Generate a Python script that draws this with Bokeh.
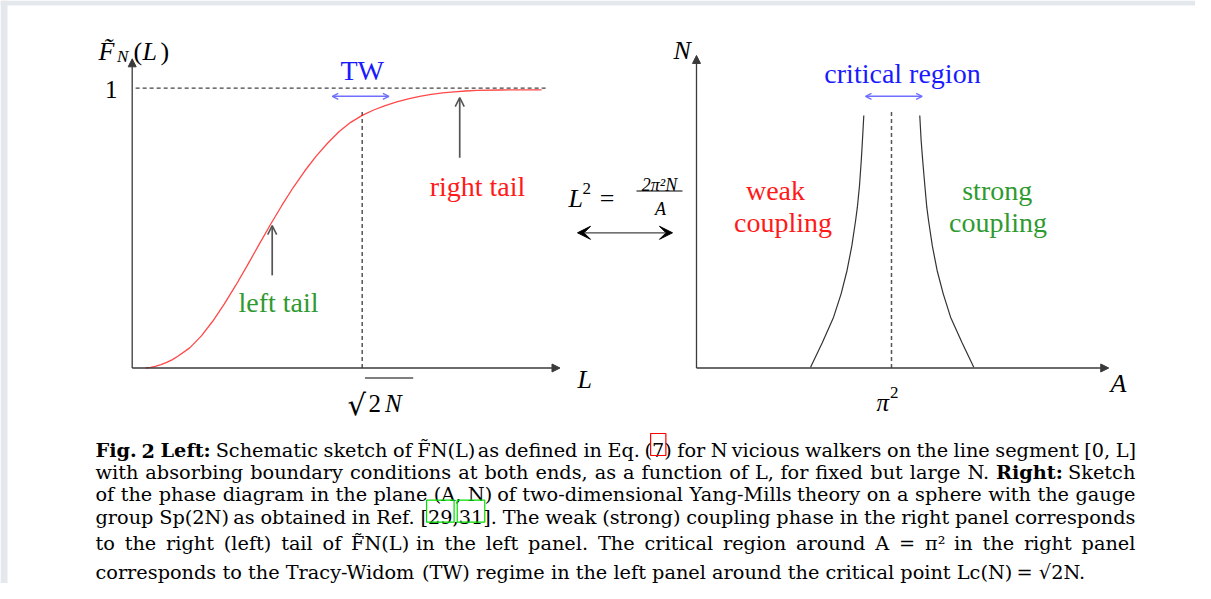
from bokeh.plotting import figure
from bokeh.models import Range1d, Arrow, NormalHead, OpenHead, VeeHead
from bokeh.core.properties import value
from bokeh.embed import file_html
from bokeh.resources import INLINE

# ---------------- data ----------------
# Left panel: F_N(L) versus L / sqrt(2N)
L_curve = [0.058, 0.08, 0.10, 0.125, 0.15, 0.175, 0.20, 0.25, 0.30, 0.35, 0.40, 0.45, 0.50,
           0.55, 0.60, 0.65, 0.70, 0.75, 0.80, 0.85, 0.90, 0.95, 1.00, 1.05, 1.10, 1.15,
           1.20, 1.25, 1.30, 1.35, 1.40, 1.45, 1.50, 1.60, 1.70, 1.78]
F_curve = [0.0, 0.002, 0.006, 0.012, 0.020, 0.030, 0.043, 0.072, 0.114, 0.167, 0.228, 0.295,
           0.366, 0.439, 0.511, 0.580, 0.645, 0.704, 0.757, 0.804, 0.845, 0.878, 0.903, 0.922,
           0.938, 0.951, 0.962, 0.971, 0.978, 0.983, 0.987, 0.990, 0.992, 0.9935, 0.994, 0.994]
L_crit = 1.0          # sqrt(2N)
F_sat = 1.0           # plateau value "1"
L_axis_end = 1.86
F_axis_end = 1.105
L_dash_end = 1.80
dash_top = 0.918

# Right panel: phase diagram (A / pi^2, N)
N_bound = [0.003, 0.09, 0.1816, 0.266, 0.3485, 0.438, 0.5272, 0.5747, 0.652, 0.7416, 0.813, 0.9024]
A_weak_edge = [0.585, 0.645, 0.703, 0.742, 0.772, 0.797, 0.816, 0.825, 0.836, 0.845, 0.851, 0.858]
A_strong_edge = [1.422, 1.362, 1.303, 1.265, 1.234, 1.209, 1.190, 1.181, 1.171, 1.160, 1.152, 1.145]
A_crit = 1.0          # pi^2
A_axis_end = 2.114
N_axis_end = 1.117

# annotation arrows (data units)
tw_span = [0.87, 1.116]
tw_level = 0.971
crit_span = [0.8667, 1.1574]
right_tail_arrow = [1.424, 0.751, 0.966]   # L, F from, F to
left_tail_arrow = [0.6087, 0.331, 0.509]

caption_lines = [
    "Fig. 2  Left: Schematic sketch of F\u0303N(L) as defined in Eq. (7) for N vicious walkers on the line segment [0, L]",
    "with absorbing boundary conditions at both ends, as a function of L, for fixed but large N. Right: Sketch",
    "of the phase diagram in the plane (A, N) of two-dimensional Yang-Mills theory on a sphere with the gauge",
    "group Sp(2N) as obtained in Ref. [29,31]. The weak (strong) coupling phase in the right panel corresponds",
    "to the right (left) tail of F\u0303N(L) in the left panel. The critical region around A = \u03c0\u00b2 in the right panel",
    "corresponds to the Tracy-Widom (TW) regime in the left panel around the critical point Lc(N) = \u221a2N.",
]
bold_words = {0: ["Fig.", "2", "Left:"], 1: ["Right:"]}

# ---------------- styles ----------------
SERIF = "Liberation Serif"
CAPF = "DejaVu Serif"
AX = "#3a3a3a"
RED = "#ff1a1a"
GREEN = "#2f9a2f"
BLUE = "#1a1aff"
LBLUE = "#7070ff"

p = figure(width=1195, height=583,
           x_range=Range1d(-0.5726, 4.6230), y_range=Range1d(-0.7702, 1.3134),
           output_backend="svg", toolbar_location=None, min_border=0,
           x_axis_location=None, y_axis_location=None,
           outline_line_color=None, background_fill_color="white",
           border_fill_color="white")
p.grid.visible = False
p.extra_x_ranges = {"A": Range1d(-3.5692, 2.5590), "px": Range1d(0, 1195)}
p.extra_y_ranges = {"py": Range1d(583, 0)}

# light page frame visible at the top and left of the reference
p.quad(left=[0, 0], right=[1195, 7], top=[0, 0], bottom=[5, 583],
       x_range_name="px", y_range_name="py", fill_color="#e4e7eb", line_color=None)


def txt(x, y, s, size, color="black", style="normal", align="left",
        baseline="alphabetic", font=SERIF, xr="px", yr="py"):
    kw = {}
    if xr != "default":
        kw["x_range_name"] = xr
    if yr != "default":
        kw["y_range_name"] = yr
    p.text(x=[x], y=[y], text=[s], text_font=value(font),
           text_font_size=value(f"{size}px"), text_font_style=style,
           text_color=color, text_align=align, text_baseline=baseline, **kw)


def axis_arrow(x0, y0, x1, y1, xr="default"):
    kw = {} if xr == "default" else {"x_range_name": xr}
    p.add_layout(Arrow(end=NormalHead(size=8, fill_color=AX, line_color=AX, line_width=1),
                       x_start=x0, y_start=y0, x_end=x1, y_end=y1,
                       line_color=AX, line_width=1.3, **kw))


# ---------------- left panel ----------------
axis_arrow(0, 0, L_axis_end, 0)
axis_arrow(0, 0, 0, F_axis_end)
p.line([0.015, L_dash_end], [F_sat, F_sat], line_color="#444444", line_width=1.3, line_dash="4 3")
p.line([L_crit, L_crit], [0, dash_top], line_color="#555555", line_width=1.5, line_dash="4 3")
p.line(L_curve, F_curve, line_color=RED, line_width=1.3, line_alpha=0.8)

p.add_layout(Arrow(start=OpenHead(size=6, line_color=LBLUE, line_width=1.3),
                   end=OpenHead(size=6, line_color=LBLUE, line_width=1.3),
                   x_start=tw_span[0], x_end=tw_span[1], y_start=tw_level, y_end=tw_level,
                   line_color=LBLUE, line_width=1.4))
p.add_layout(Arrow(end=OpenHead(size=9, line_color="#555555", line_width=1.6),
                   x_start=right_tail_arrow[0], x_end=right_tail_arrow[0],
                   y_start=right_tail_arrow[1], y_end=right_tail_arrow[2],
                   line_color="#555555", line_width=1.7))
p.add_layout(Arrow(end=OpenHead(size=9, line_color="#555555", line_width=1.6),
                   x_start=left_tail_arrow[0], x_end=left_tail_arrow[0],
                   y_start=left_tail_arrow[1], y_end=left_tail_arrow[2],
                   line_color="#555555", line_width=1.7))

txt(98, 51, "F\u0303", 26, style="italic")
txt(116.5, 56, "N", 17, style="italic")
txt(133, 51, "(", 26)
txt(142, 51, "L", 26, style="italic")
txt(160, 51, ")", 26)
txt(110.7, 89, "1", 25, align="center")
txt(361.7, 70, "TW", 28, color=BLUE, align="center")
txt(477, 185.7, "right tail", 28, color=RED, align="center")
txt(278, 301.7, "left tail", 28, color=GREEN, align="center")
txt(577, 379.3, "L", 26, style="italic")
txt(347, 404, "\u221a", 29, font="DejaVu Sans")
txt(368, 403.3, "2", 25)
txt(384.5, 403.3, "N", 25, style="italic")
p.line([364.5, 412.7], [377.5, 377.5], x_range_name="px", y_range_name="py",
       line_color="black", line_width=1.2)

# ---------------- middle relation ----------------
txt(568, 198.3, "L", 26, style="italic")
txt(582, 187.5, "2", 17)
txt(606.7, 198.3, "=", 26, align="center")
txt(659, 184, "2\u03c0\u00b2N", 18, style="italic", align="center")
p.line([636, 682], [190.5, 190.5], x_range_name="px", y_range_name="py",
       line_color="black", line_width=1.0)
txt(660, 208.3, "A", 18, style="italic", align="center")
p.add_layout(Arrow(start=VeeHead(size=13, fill_color="black", line_color="black"),
                   end=VeeHead(size=13, fill_color="black", line_color="black"),
                   x_start=577, x_end=672, y_start=232.3, y_end=232.3,
                   x_range_name="px", y_range_name="py", line_color="#444444", line_width=1.3))

# ---------------- right panel ----------------
axis_arrow(0, 0, A_axis_end, 0, xr="A")
axis_arrow(0, 0, 0, N_axis_end, xr="A")
p.line([A_crit, A_crit], [0, dash_top], x_range_name="A", line_color="#555555",
       line_width=1.5, line_dash="4 3")
p.line(A_weak_edge, N_bound, x_range_name="A", line_color="#333333", line_width=1.2)
p.line(A_strong_edge, N_bound, x_range_name="A", line_color="#333333", line_width=1.2)
p.add_layout(Arrow(start=OpenHead(size=6, line_color=LBLUE, line_width=1.3),
                   end=OpenHead(size=6, line_color=LBLUE, line_width=1.3),
                   x_start=crit_span[0], x_end=crit_span[1], y_start=tw_level, y_end=tw_level,
                   x_range_name="A", line_color=LBLUE, line_width=1.4))

txt(673, 50, "N", 26, style="italic")
txt(1110, 383, "A", 26, style="italic")
txt(876, 401.7, "\u03c0", 25, style="italic")
txt(889.5, 392, "2", 17)
txt(902, 72.7, "critical region", 28, color=BLUE, align="center")
txt(775, 190, "weak", 28, color=RED, align="center")
txt(782.5, 222, "coupling", 28, color=RED, align="center")
txt(996.7, 190, "strong", 28, color=GREEN, align="center")
txt(997.5, 222, "coupling", 28, color=GREEN, align="center")

# ---------------- caption (justified word by word) ----------------
CS = 19.3
X0, X1 = 95, 1135
b = [450, 471.7, 494, 516.7, 543.3, 571.7]
# approximate DejaVu Serif advance widths (em)
EM = {" ": .318, "a": .596, "b": .640, "c": .560, "d": .640, "e": .592, "f": .369, "g": .640,
      "h": .644, "i": .320, "j": .320, "k": .610, "l": .320, "m": .948, "n": .644, "o": .602,
      "p": .640, "q": .640, "r": .478, "s": .513, "t": .402, "u": .644, "v": .565, "w": .855,
      "x": .565, "y": .565, "z": .525, "A": .722, "E": .683, "F": .638, "L": .638, "M": .865,
      "N": .801, "R": .724, "S": .686, "T": .673, "W": 1.022, "Y": .673, "(": .390, ")": .390,
      "[": .390, "]": .390, ",": .318, ".": .318, ":": .337, "-": .338, "=": .838,
      "\u03c0": .60, "\u00b2": .40, "\u221a": .838, "\u0303": 0.0}
for d_ in "0123456789":
    EM[d_] = .636


def wlen(word, bold=False):
    return sum(EM.get(ch, .6) for ch in word) * CS * (1.1 if bold else 1.0)


word_pos = {}
for li, line in enumerate(caption_lines):
    words = [w for w in line.split(" ") if w]
    bolds = bold_words.get(li, [])
    widths = [wlen(w, w in bolds) for w in words]
    if li < len(caption_lines) - 1:
        gap = (X1 - X0 - sum(widths)) / (len(words) - 1)
    else:
        gap = EM[" "] * CS
    x = X0
    for w, wd in zip(words, widths):
        cap_style = "bold" if w in bolds else "normal"
        txt(x, b[li], w, CS, style=cap_style, font=CAPF)
        word_pos[(li, w)] = x
        x += wd + gap

# hyperref link boxes around "7" and "29", "31"
x7 = word_pos[(0, "(7)")] + EM["("] * CS
p.quad(left=[x7 - 1.5], right=[x7 + EM["7"] * CS + 1.5], top=[b[0] - 17], bottom=[b[0] + 5],
       x_range_name="px", y_range_name="py", fill_color=None, line_color="#ff0000", line_width=1.2)
xr_ = word_pos[(3, "[29,31].")] + EM["["] * CS
w2 = 2 * EM["2"] * CS
x31 = xr_ + w2 + EM[","] * CS
p.quad(left=[xr_ - 1.5, x31 - 1.5], right=[xr_ + w2 + 1.5, x31 + w2 + 1.5],
       top=[b[3] - 17, b[3] - 17], bottom=[b[3] + 5, b[3] + 5],
       x_range_name="px", y_range_name="py",
       fill_color=None, line_color="#00e000", line_width=1.2)

open("out.html", "w").write(file_html(p, INLINE))
